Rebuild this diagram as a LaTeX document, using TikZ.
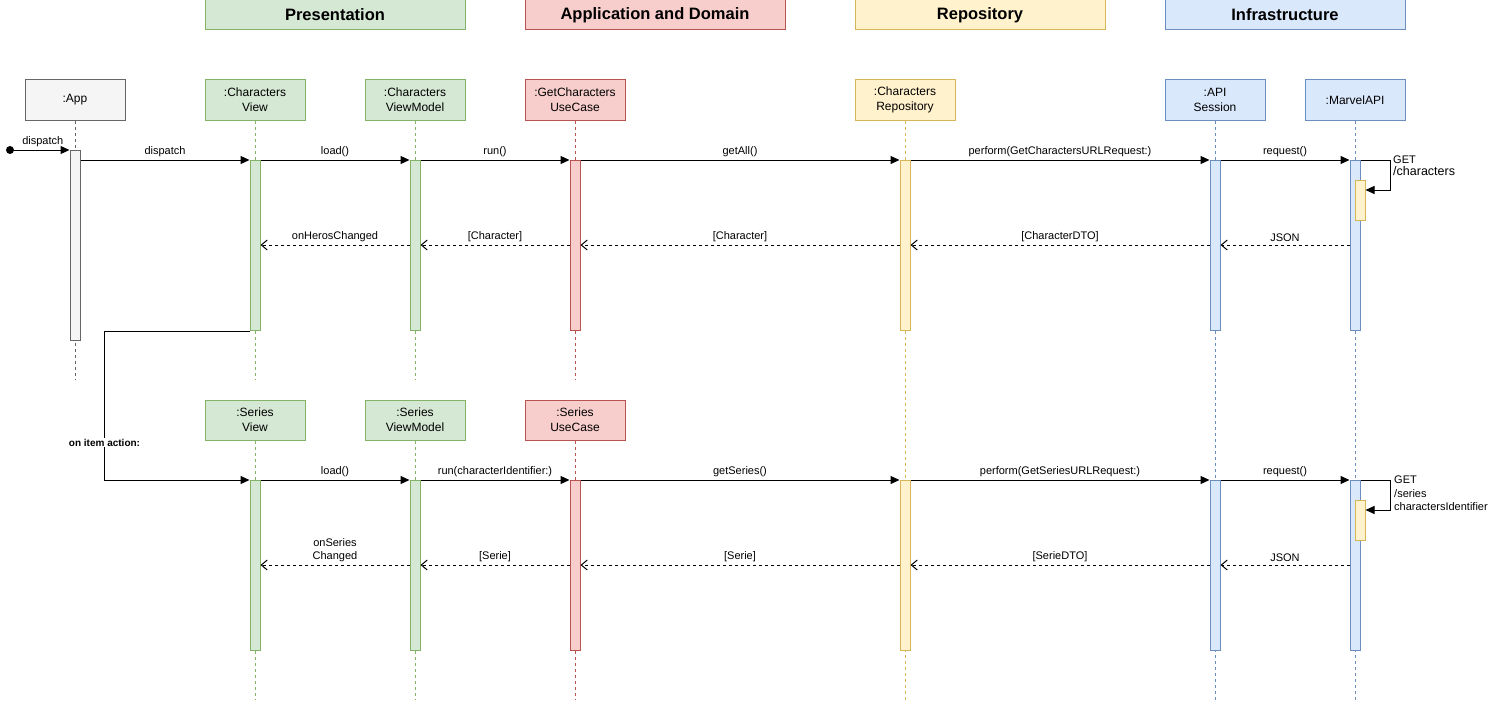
\documentclass[tikz,border=0pt]{standalone}
\usepackage{fontspec}
\setmainfont{Liberation Sans}
\usetikzlibrary{arrows.meta,calc}

\definecolor{grayF}{HTML}{F5F5F5}\definecolor{grayD}{HTML}{666666}
\definecolor{greenF}{HTML}{D5E8D4}\definecolor{greenD}{HTML}{82B366}
\definecolor{redF}{HTML}{F8CECC}\definecolor{redD}{HTML}{B85450}
\definecolor{yellowF}{HTML}{FFF2CC}\definecolor{yellowD}{HTML}{D6B656}
\definecolor{blueF}{HTML}{DAE8FC}\definecolor{blueD}{HTML}{6C8EBF}

\tikzset{
  part/.style={draw=#1D, fill=#1F, line width=1pt, minimum width=100pt, minimum height=40pt,
    inner sep=0pt, align=center, font=\fontsize{12}{15}\selectfont},
  hdr/.style={draw=#1D, fill=#1F, line width=1pt, minimum height=30pt, inner sep=0pt,
    font=\bfseries\fontsize{16.5}{18}\selectfont},
  act/.style={draw=#1D, fill=#1F, line width=1pt, minimum width=10pt, inner sep=0pt, anchor=north},
  life/.style={draw=#1D, line width=1pt, dash pattern=on 3pt off 3pt},
  msg/.style={-{Triangle[length=9pt,width=8pt]}, line width=1pt},
  ret/.style={-{Straight Barb[length=6pt,width=10pt]}, line width=1pt, dash pattern=on 3pt off 3pt},
  lbl/.style={above, inner sep=3pt, align=center, font=\fontsize{11}{13}\selectfont},
}

\begin{document}
\begin{tikzpicture}[x=1pt,y=-1pt]
  \useasboundingbox (0,0) rectangle (1489,701);

  %% layers
  \node[hdr=green, minimum width=260pt] (hPres) at (335,15) {Presentation};
  \node[hdr=red, minimum width=260pt] (hApp) at (655,15) {Application and Domain};
  \node[hdr=yellow, minimum width=250pt] (hRepo) at (980,15) {Repository};
  \node[hdr=blue, minimum width=240pt] (hInfra) at (1285,15) {Infrastructure};

  %% participants
  \node[part=gray] (pApp) at (75,100) {:App};
  \node[part=green] (pCView) at (255,100) {:Characters\\View};
  \node[part=green] (pCVM) at (415,100) {:Characters\\ViewModel};
  \node[part=red] (pCUse) at (575,100) {:GetCharacters\\UseCase};
  \node[part=yellow] (pRepo) at (905,100) {:Characters\\Repository};
  \node[part=blue] (pApi) at (1215,100) {:API\\Session};
  \node[part=blue] (pMarvel) at (1355,100) {:MarvelAPI};

  \node[part=green] (pSView) at (255,420) {:Series\\View};
  \node[part=green] (pSVM) at (415,420) {:Series\\ViewModel};
  \node[part=red] (pSUse) at (575,420) {:Series\\UseCase};

  %% lifelines
  \draw[life=gray] (pApp.south) -- (pApp.south |- 0,380);
  \draw[life=green] (pCView.south) -- (pCView.south |- 0,380);
  \draw[life=green] (pCVM.south) -- (pCVM.south |- 0,380);
  \draw[life=red] (pCUse.south) -- (pCUse.south |- 0,380);
  \draw[life=green] (pSView.south) -- (pSView.south |- 0,700);
  \draw[life=green] (pSVM.south) -- (pSVM.south |- 0,700);
  \draw[life=red] (pSUse.south) -- (pSUse.south |- 0,700);
  \draw[life=yellow] (pRepo.south) -- (pRepo.south |- 0,700);
  \draw[life=blue] (pApi.south) -- (pApi.south |- 0,700);
  \draw[life=blue] (pMarvel.south) -- (pMarvel.south |- 0,700);

  %% activations
  \node[act=gray, minimum height=190pt] (aApp) at (75,150) {};
  \node[act=green, minimum height=170pt] (aCView) at (255,160) {};
  \node[act=green, minimum height=170pt] (aCVM) at (415,160) {};
  \node[act=red, minimum height=170pt] (aCUse) at (575,160) {};
  \node[act=yellow, minimum height=170pt] (aRepo1) at (905,160) {};
  \node[act=blue, minimum height=170pt] (aApi1) at (1215,160) {};
  \node[act=blue, minimum height=170pt] (aMarvel1) at (1355,160) {};
  \node[act=yellow, minimum height=40pt] (aGet1) at (1360,180) {};

  \node[act=green, minimum height=170pt] (aSView) at (255,480) {};
  \node[act=green, minimum height=170pt] (aSVM) at (415,480) {};
  \node[act=red, minimum height=170pt] (aSUse) at (575,480) {};
  \node[act=yellow, minimum height=170pt] (aRepo2) at (905,480) {};
  \node[act=blue, minimum height=170pt] (aApi2) at (1215,480) {};
  \node[act=blue, minimum height=170pt] (aMarvel2) at (1355,480) {};
  \node[act=yellow, minimum height=40pt] (aGet2) at (1360,500) {};

  \coordinate (r1) at (0,245);
  \coordinate (r2) at (0,565);

  %% characters
  \node[circle, fill, inner sep=0pt, minimum size=8pt] (start) at (10,150) {};
  \draw[msg] (start.center) -- node[lbl, xshift=3pt]{dispatch} (aApp.north west);
  \draw[msg] (aApp.east |- aCView.north) -- node[lbl]{dispatch} (aCView.north west);
  \draw[msg] (aCView.north east) -- node[lbl]{load()} (aCVM.north west);
  \draw[msg] (aCVM.north east) -- node[lbl]{run()} (aCUse.north west);
  \draw[msg] (aCUse.north east) -- node[lbl]{getAll()} (aRepo1.north west);
  \draw[msg] (aRepo1.north east) -- node[lbl]{perform(GetCharactersURLRequest:)} (aApi1.north west);
  \draw[msg] (aApi1.north east) -- node[lbl]{request()} (aMarvel1.north west);
  \draw[msg] (aMarvel1.north east) -- ++(30,0) -- ++(0,30) -- (aGet1.east |- 0,190);
  \node[anchor=north west, inner sep=0pt, align=left] (get1) at (1393,156)
    {\fontsize{11}{13}\selectfont GET\\\fontsize{12.5}{14}\selectfont /characters};

  \draw[ret] (aMarvel1.west |- r1) -- node[lbl]{JSON} (aApi1.east |- r1);
  \draw[ret] (aApi1.west |- r1) -- node[lbl]{[CharacterDTO]} (aRepo1.east |- r1);
  \draw[ret] (aRepo1.west |- r1) -- node[lbl]{[Character]} (aCUse.east |- r1);
  \draw[ret] (aCUse.west |- r1) -- node[lbl]{[Character]} (aCVM.east |- r1);
  \draw[ret] (aCVM.west |- r1) -- node[lbl]{onHerosChanged} (aCView.east |- r1);

  %% series
  \draw[msg] (aCView.south west) -- ++(-145,0) |- node[pos=0.375, fill=white, inner sep=1pt,
    font=\bfseries\fontsize{10}{12}\selectfont]{on item action:} (aSView.north west);
  \draw[msg] (aSView.north east) -- node[lbl]{load()} (aSVM.north west);
  \draw[msg] (aSVM.north east) -- node[lbl]{run(characterIdentifier:)} (aSUse.north west);
  \draw[msg] (aSUse.north east) -- node[lbl]{getSeries()} (aRepo2.north west);
  \draw[msg] (aRepo2.north east) -- node[lbl]{perform(GetSeriesURLRequest:)} (aApi2.north west);
  \draw[msg] (aApi2.north east) -- node[lbl]{request()} (aMarvel2.north west);
  \draw[msg] (aMarvel2.north east) -- ++(30,0) -- ++(0,30) -- (aGet2.east |- 0,510);
  \node[anchor=north west, inner sep=0pt, align=left, font=\fontsize{11}{13.5}\selectfont] (get2)
    at (1394,476) {GET\\/series\\charactersIdentifier};

  \draw[ret] (aMarvel2.west |- r2) -- node[lbl]{JSON} (aApi2.east |- r2);
  \draw[ret] (aApi2.west |- r2) -- node[lbl]{[SerieDTO]} (aRepo2.east |- r2);
  \draw[ret] (aRepo2.west |- r2) -- node[lbl]{[Serie]} (aSUse.east |- r2);
  \draw[ret] (aSUse.west |- r2) -- node[lbl]{[Serie]} (aSVM.east |- r2);
  \draw[ret] (aSVM.west |- r2) -- node[lbl]{onSeries\\Changed} (aSView.east |- r2);

\end{tikzpicture}
\end{document}
